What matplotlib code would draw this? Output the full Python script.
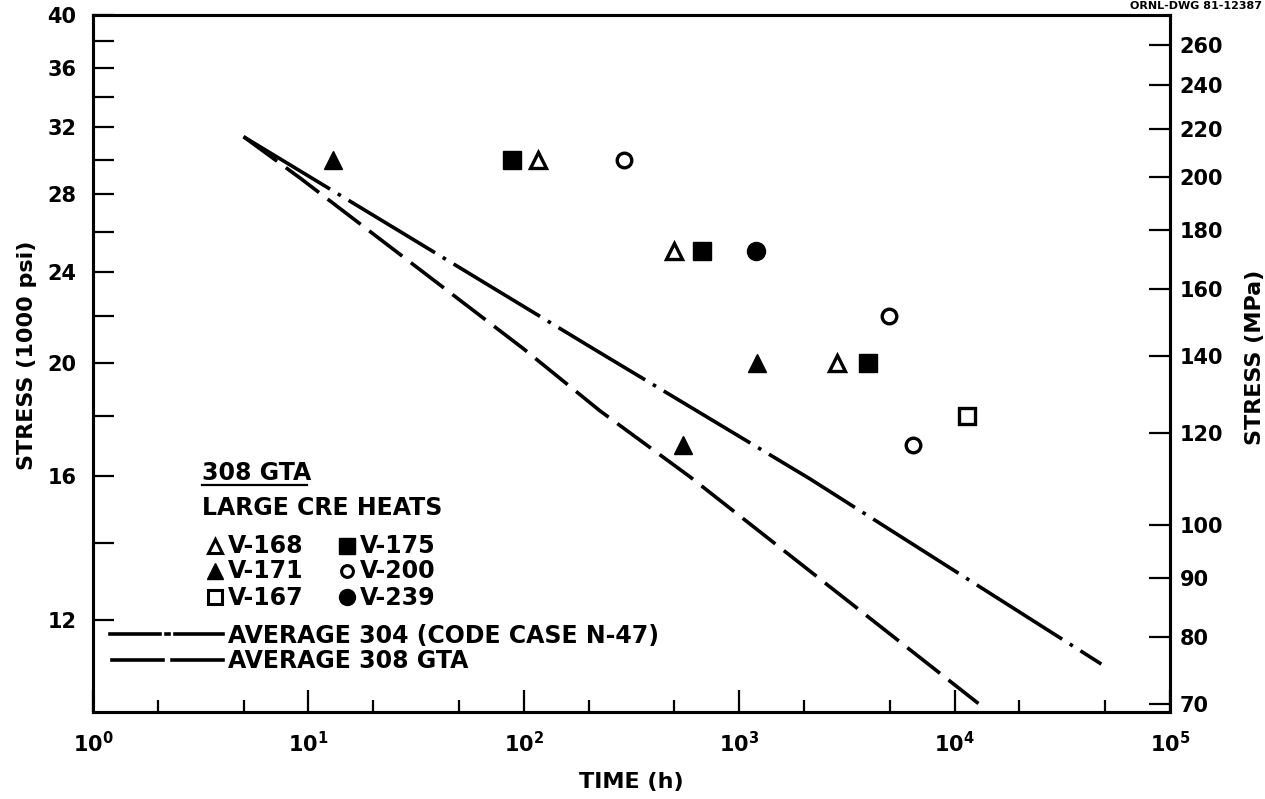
import matplotlib
matplotlib.use("Agg")
import matplotlib.pyplot as plt
from matplotlib.lines import Line2D
from matplotlib.ticker import FixedLocator, FixedFormatter, NullFormatter, NullLocator

# ---------------- data ----------------
# heats: time to rupture (h) and stress (1000 psi)
v168_t = [117, 498, 2850]
v168_s = [30, 25, 20]
v171_t = [13, 1210, 547]
v171_s = [30, 20, 17]
v167_t = [11460]
v167_s = [18]
v175_t = [88, 670, 3975]
v175_s = [30, 25, 20]
v200_t = [292, 4980, 6430]
v200_s = [30, 22, 17]
v239_t = [1200]
v239_s = [25]

# average curves
avg304_t = [5, 27.6, 210, 2130, 48000]
avg304_s = [31.4, 25.9, 20.6, 15.9, 11.0]
avg308_t = [5, 9.2, 99.5, 226, 592, 12900]
avg308_s = [31.4, 28.9, 20.6, 18.2, 15.96, 10.17]

x_major = [1, 10, 100, 1000, 10000, 100000]
x_major_labels = [r"$10^{0}$", r"$10^{1}$", r"$10^{2}$", r"$10^{3}$", r"$10^{4}$", r"$10^{5}$"]
x_minor = [2, 5, 20, 50, 200, 500, 2000, 5000, 20000, 50000]
y_major = [12, 16, 20, 24, 28, 32, 36, 40]
y_minor = [14, 18, 22, 26, 30, 34, 38]
mpa_ticks = [70, 80, 90, 100, 120, 140, 160, 180, 200, 220, 240, 260]
KSI_TO_MPA = 6.895

# ---------------- style ----------------
plt.rcParams["font.family"] = ["DejaVu Sans"]
plt.rcParams["font.weight"] = "bold"
plt.rcParams["mathtext.default"] = "bf"

W, H = 1265, 799
fig = plt.figure(figsize=(W / 100, H / 100), dpi=100)
ax = fig.add_axes([93 / W, 1 - 712 / H, (1170 - 93) / W, (712 - 15) / H])
ax.set_xscale("log")
ax.set_yscale("log")
ax.set_xlim(1, 1e5)
ax.set_ylim(10, 40)

for sp in ax.spines.values():
    sp.set_linewidth(2.2)

ax.xaxis.set_major_locator(FixedLocator(x_major))
ax.xaxis.set_major_formatter(FixedFormatter(x_major_labels))
ax.xaxis.set_minor_locator(FixedLocator(x_minor))
ax.xaxis.set_minor_formatter(NullFormatter())
ax.yaxis.set_major_locator(FixedLocator(y_major))
ax.yaxis.set_major_formatter(FixedFormatter([str(v) for v in y_major]))
ax.yaxis.set_minor_locator(FixedLocator(y_minor))
ax.yaxis.set_minor_formatter(NullFormatter())

ax.tick_params(axis="x", which="major", direction="in", length=16, width=1.6,
               pad=14, labelsize=15)
ax.tick_params(axis="x", which="minor", direction="in", length=8.5, width=1.6)
ax.tick_params(axis="y", which="both", direction="in", length=15, width=1.6,
               pad=12, labelsize=15)

ax2 = ax.twinx()
ax2.set_yscale("log")
ax2.set_ylim(10 * KSI_TO_MPA, 40 * KSI_TO_MPA)
ax2.yaxis.set_major_locator(FixedLocator(mpa_ticks))
ax2.yaxis.set_major_formatter(FixedFormatter([str(v) for v in mpa_ticks]))
ax2.yaxis.set_minor_locator(NullLocator())
ax2.tick_params(axis="y", which="major", direction="in", length=15, width=1.6,
                pad=7, labelsize=15)
for sp in ax2.spines.values():
    sp.set_linewidth(2.2)

# curves
ax.plot(avg304_t, avg304_s, color="black", lw=2.6,
        linestyle=(0, (28, 2.5, 1, 2.5)), zorder=2)
ax.plot(avg308_t, avg308_s, color="black", lw=2.6,
        linestyle=(0, (11.5, 3)), zorder=2)

# data points
open_kw = dict(linestyle="none", mfc="white", mec="black", mew=2.4, ms=11, zorder=4)
fill_kw = dict(linestyle="none", mfc="black", mec="black", mew=1, ms=13, zorder=4)
ax.plot(v168_t, v168_s, marker="^", **open_kw)
ax.plot(v171_t, v171_s, marker="^", **fill_kw)
ax.plot(v167_t, v167_s, marker="s", **open_kw)
ax.plot(v175_t, v175_s, marker="s", **dict(fill_kw, ms=12.5))
ax.plot(v200_t, v200_s, marker="o", **dict(open_kw, ms=10.5))
ax.plot(v239_t, v239_s, marker="o", **fill_kw)

# ---------------- axis labels ----------------
fig.text(27 / W, 1 - 355 / H, "STRESS (1000 psi)", rotation=90, ha="center",
         va="center", fontsize=16, fontweight="bold")
fig.text(1255 / W, 1 - 357 / H, "STRESS (MPa)", rotation=90, ha="center",
         va="center", fontsize=16, fontweight="bold")
fig.text(631 / W, 1 - 782 / H, "TIME (h)", ha="center", va="center",
         fontsize=16, fontweight="bold")
fig.text(1262 / W, 1 - 1 / H, "ORNL-DWG 81-12387", ha="right", va="top",
         fontsize=8, fontweight="bold")

# ---------------- legend block ----------------
def fx(px):
    return px / W


def fy(py):
    return 1 - py / H


def fig_line(xs, ys, **kw):
    fig.add_artist(Line2D([fx(x) for x in xs], [fy(y) for y in ys],
                          transform=fig.transFigure, **kw))


LFS = 17
fig.text(fx(202), fy(480), "308 GTA", ha="left", va="baseline", fontsize=LFS)
fig_line([202, 307], [485, 485], color="black", lw=1.6)
fig.text(fx(202), fy(515), "LARGE CRE HEATS", ha="left", va="baseline", fontsize=LFS)

entries = [
    (215, 546, 553, "^", "white", "V-168"),
    (347, 546, 553, "s", "black", "V-175"),
    (215, 571, 578, "^", "black", "V-171"),
    (347, 571, 578, "o", "white", "V-200"),
    (215, 597, 605, "s", "white", "V-167"),
    (347, 597, 605, "o", "black", "V-239"),
]
for mx, my, base, mk, fc, lab in entries:
    if fc == "white":
        kw = dict(mfc="white", mec="black", mew=2.2, ms=9.5 if mk != "o" else 8.5)
    else:
        kw = dict(mfc="black", mec="black", mew=1, ms=11.5)
    fig.add_artist(Line2D([fx(mx)], [fy(my)], marker=mk, linestyle="none",
                          transform=fig.transFigure, **kw))
    fig.text(fx(mx + 13), fy(base), lab, ha="left", va="baseline", fontsize=LFS)

# line samples
fig_line([110, 160], [634, 634], color="black", lw=2.6)
fig_line([165.5, 168.5], [634, 634], color="black", lw=2.6)
fig_line([175, 223], [634, 634], color="black", lw=2.6)
fig.text(fx(228), fy(643), "AVERAGE 304 (CODE CASE N-47)", ha="left",
         va="baseline", fontsize=LFS)
fig_line([112, 163], [660, 660], color="black", lw=2.6)
fig_line([172, 223], [660, 660], color="black", lw=2.6)
fig.text(fx(228), fy(668), "AVERAGE 308 GTA", ha="left", va="baseline", fontsize=LFS)

fig.savefig("out.png", dpi=100)
